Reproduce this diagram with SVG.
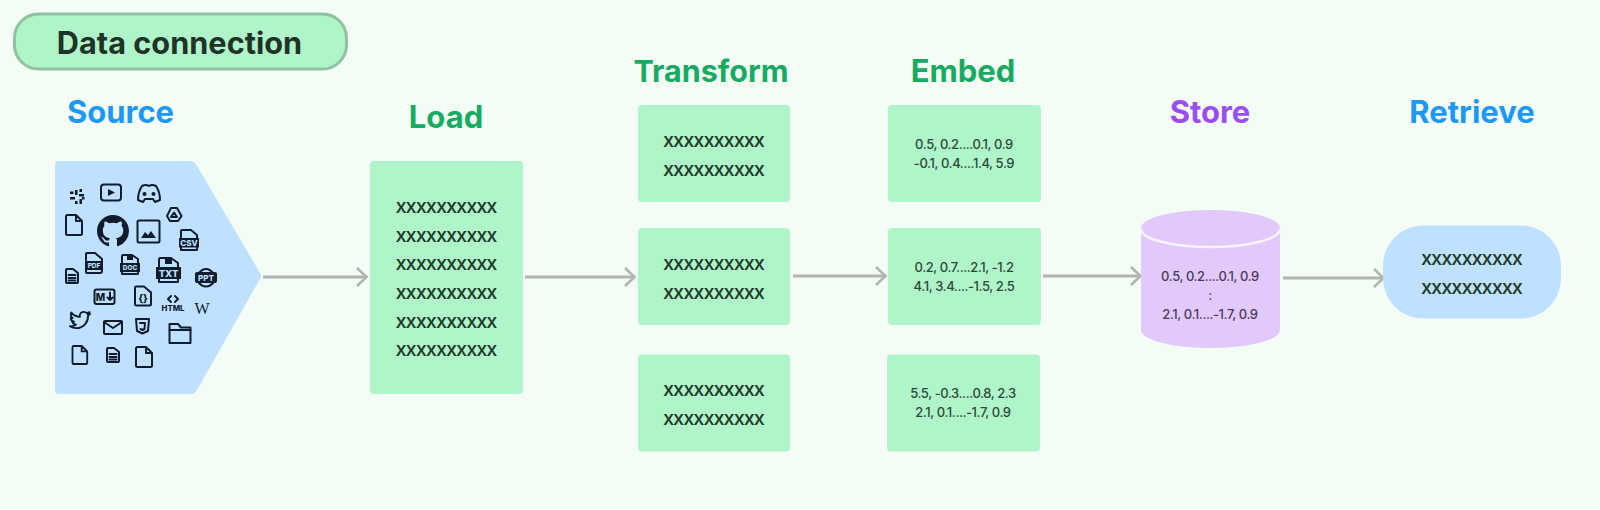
<svg xmlns="http://www.w3.org/2000/svg" width="1600" height="510" viewBox="0 0 1600 510">
<style>
text{font-family:Inter,"Noto Sans","Liberation Sans",sans-serif}
.t{font-size:31px;font-weight:700;text-anchor:middle}
.g{fill:#17ab62}.b{fill:#1c98f7}.p{fill:#9a4cf5}
.box{fill:#aff5c9}
.x{font-size:20px;font-weight:500;fill:#1d3a28;text-anchor:middle;letter-spacing:-1.050px}
.n{font-size:13px;font-weight:500;fill:#2a4a37;text-anchor:middle;letter-spacing:-0.4px}
.s{font-size:13px;font-weight:500;fill:#4a3a5e;text-anchor:middle;letter-spacing:-0.4px}
.c{fill:none;stroke:#b1b5ad;stroke-width:3}
.i{fill:none;stroke:#0e1c2e;stroke-width:2;stroke-linejoin:round;stroke-linecap:round}
.f{fill:#0e1c2e}
.l{font-size:6.5px;font-weight:800;fill:#bfe1ff;text-anchor:middle}
</style>
<defs>
<marker id="a" markerUnits="userSpaceOnUse" markerWidth="16" markerHeight="22" refX="13" refY="11" orient="auto"><path d="M3 2L12.5 11L3 20" fill="none" stroke="#b1b5ad" stroke-width="2.6"/></marker>
<path id="file" d="M0 1.5Q0 0 1.5 0H10L16 6V18.5Q16 20 14.5 20H1.5Q0 20 0 18.5ZM10 0V6H16"/>
</defs>
<rect width="1600" height="510" fill="#f3fdf6"/>

<g id="title"><rect x="14.500" y="14" width="332" height="55" rx="24" fill="#aff5c9" stroke="#8fc39f" stroke-width="3"/><text x="179.500" y="54" font-size="30.700" font-weight="700" text-anchor="middle" fill="#1f3327">Data connection</text></g>

<g id="connectors">
<path class="c" marker-end="url(#a)" d="M263 277H367"/>
<path class="c" marker-end="url(#a)" d="M525 277H635"/>
<path class="c" marker-end="url(#a)" d="M793 276H886"/>
<path class="c" marker-end="url(#a)" d="M1043 276H1141"/>
<path class="c" marker-end="url(#a)" d="M1283 278H1384"/>
</g>

<g id="source">
<text class="t b" x="120.500" y="123">Source</text>
<path d="M55 165Q55 161 59 161H190Q194 161 196 164L260 273Q262 276 260 279L197 390Q195 394 191 394H59Q55 394 55 390Z" fill="#bfe1ff"/>
<g id="i-slack"><path class="f" d="M75 190h2.500v5h-2.500zM79 194h5v2.500h-5zM70 197h5v2.500h-5zM79.500 199h2.500v5h-2.500zM79.500 189h2.500v3h-2.500zM84.500 197h-2.500v2.500h2.500zM70 191.500h3.500v2.500h-3.500zM75 201h2.500v3h-2.500z"/></g>
<g id="i-youtube"><rect class="i" x="101" y="184.500" width="20" height="16" rx="3" stroke-width="2.200"/><path class="f" d="M108 189L115 192.500L108 196Z"/></g>
<g id="i-discord"><path class="i" stroke-width="2.200" d="M142 186Q146 184 149 186Q152 184 156 186Q160 192 160 200L155 202L153 199H145L143 202L138 200Q138 192 142 186Z"/><circle class="f" cx="144.500" cy="194" r="2"/><circle class="f" cx="153.500" cy="194" r="2"/></g>
<g id="i-drive"><path class="i" d="M171 208H177L181.500 216L178 221H170L167 216Z"/><path class="i" d="M174 212.500L171 217H177Z" stroke-width="1.400"/></g>
<use id="i-file1" class="i" href="#file" x="66" y="215"/>
<g id="i-github"><path class="f" transform="translate(97 215) scale(2)" d="M8 0C3.58 0 0 3.58 0 8c0 3.54 2.29 6.53 5.47 7.59.4.07.55-.17.55-.38 0-.19-.01-.82-.01-1.49-2.01.37-2.53-.49-2.69-.94-.09-.23-.48-.94-.82-1.13-.28-.15-.68-.52-.01-.53.63-.01 1.08.58 1.23.82.72 1.21 1.87.87 2.33.66.07-.52.28-.87.51-1.07-1.78-.2-3.64-.89-3.64-3.95 0-.87.31-1.59.82-2.15-.08-.2-.36-1.02.08-2.12 0 0 .67-.21 2.2.82.64-.18 1.32-.27 2-.27.68 0 1.36.09 2 .27 1.53-1.04 2.2-.82 2.2-.82.44 1.1.16 1.92.08 2.12.51.56.82 1.27.82 2.15 0 3.07-1.87 3.75-3.65 3.95.29.25.54.73.54 1.48 0 1.07-.01 1.93-.01 2.2 0 .21.15.46.55.38A8.013 8.013 0 0016 8c0-4.42-3.58-8-8-8z"/></g>
<g id="i-image"><rect class="i" x="137.500" y="220.500" width="22" height="22" rx="1.500" stroke-width="2.400"/><path class="f" d="M141 238L145 232L148 235L151 231L156 238Z"/></g>
<g id="i-csv"><path class="i" d="M181 239V231Q181 230 182 230H191L197 235V239M181 247V250H197V247" stroke-width="1.500"/><rect class="f" x="179" y="238" width="20" height="9.500"/><text class="l" x="189" y="245.500" style="font-size:8px">CSV</text></g>
<g id="i-doc1"><path class="i" d="M66 270Q66 269 67 269H73L78 273V282Q78 283 77 283H67Q66 283 66 282ZM68.500 275H75.500M68.500 278H75.500M68.500 280.500H75.500" stroke-width="1.600"/></g>
<g id="i-pdf"><path class="i" d="M86 260V254Q86 253 87 253H95L102 259V261M86 270V272Q86 273 87 273H100Q102 273 102 271V270" stroke-width="2"/><rect class="f" x="85" y="261" width="18" height="9"/><text class="l" x="94" y="268">PDF</text></g>
<g id="i-docx"><path class="i" d="M122 263V256Q122 255 123 255H132L138 259V263M122 272V274H138V272" stroke-width="2"/><rect class="f" x="127" y="256" width="6" height="4"/><rect class="f" x="120" y="263" width="20" height="9"/><text class="l" x="130" y="270.200">DOC</text></g>
<g id="i-txt"><path class="i" d="M159 267V259Q159 258 160 258H171L178 263V267M159 279V282H178V279" stroke-width="2.200"/><rect class="f" x="165" y="259" width="7" height="5"/><rect class="f" x="156" y="267" width="25" height="12"/><text class="l" x="168.500" y="276.800" style="font-size:9.500px">TXT</text></g>
<g id="i-ppt"><path class="i" d="M198 274Q206 264 214 274M198 282Q206 291 214 282" stroke-width="2.400"/><rect class="f" x="195" y="272" width="22" height="11" rx="2"/><text class="l" x="206" y="280.600" style="font-size:8px">PPT</text></g>
<g id="i-md"><rect class="i" x="94.500" y="289.500" width="20" height="14.500" rx="2" stroke-width="1.500"/><text x="100.500" y="300.500" font-size="10" font-weight="800" fill="#0e1c2e" text-anchor="middle">M</text><path class="i" d="M110 292.500V300M107.500 297.500L110 300L112.500 297.500" stroke-width="1.400"/></g>
<g id="i-code"><path class="i" d="M135 287.500Q135 286.500 136 286.500H144L151 292.500V304Q151 305.500 149.500 305.500H136.500Q135 305.500 135 304Z"/><text x="143" y="302" font-size="10" font-weight="800" fill="#0e1c2e" text-anchor="middle">{}</text></g>
<g id="i-html"><path class="i" d="M171 296L168 299L171 302M175 296L178 299L175 302" stroke-width="1.600"/><text x="173" y="310.500" font-size="7.800" font-weight="800" fill="#0e1c2e" text-anchor="middle">HTML</text></g>
<text id="i-wiki" x="202" y="314" font-size="16" fill="#0e1c2e" text-anchor="middle" style="font-family:'Liberation Serif',serif">W</text>
<g id="i-twitter"><path class="i" stroke-width="2.400" transform="translate(68.500 308) scale(0.96)" d="M22.46 6c-.77.35-1.6.58-2.46.69.88-.53 1.56-1.37 1.88-2.38-.83.5-1.75.85-2.72 1.05C18.37 4.5 17.26 4 16 4c-2.35 0-4.27 1.92-4.27 4.29 0 .34.04.67.11.98C8.28 9.09 5.11 7.38 3 4.79c-.37.63-.58 1.37-.58 2.15 0 1.49.75 2.81 1.91 3.56-.71 0-1.37-.2-1.95-.5v.03c0 2.08 1.48 3.82 3.44 4.21a4.22 4.22 0 0 1-1.93.07 4.28 4.28 0 0 0 4 2.98 8.521 8.521 0 0 1-5.33 1.84c-.34 0-.68-.02-1.02-.06C3.44 20.29 5.7 21 8.12 21 16 21 20.33 14.46 20.33 8.79c0-.19 0-.37-.01-.56.84-.6 1.56-1.36 2.14-2.23z"/></g>
<g id="i-mail"><rect class="i" x="104" y="321" width="18" height="13" rx="1"/><path class="i" d="M104 322L113 328L122 322"/></g>
<g id="i-css"><path class="i" d="M136 319H149L148 331L142.500 333.500L137 331Z" stroke-width="1.300"/><path class="i" d="M140 323H145L144.500 329L142.500 330L140.500 329" stroke-width="1.200"/></g>
<g id="i-folder"><path class="i" d="M169.500 324H178L181 327.500H190.500V343H169.500Z"/><path class="i" d="M169.500 330H190.500" stroke-width="1"/></g>
<use id="i-file2" class="i" href="#file" transform="translate(72.500 346) scale(0.92 0.9)"/>
<g id="i-doc2"><path class="i" d="M107 349Q107 348 108 348H114L119 352V361Q119 362 118 362H108Q107 362 107 361ZM109.500 354H116.500M109.500 357H116.500M109.500 359.500H116.500" stroke-width="1.600"/></g>
<use id="i-file3" class="i" href="#file" x="136" y="347"/>
</g>

<g id="load">
<text class="t g" x="446" y="128">Load</text>
<rect class="box" x="370" y="161" width="153" height="233" rx="4"/>
<text class="x" x="446" y="213">xxxxxxxxxx</text><text class="x" x="446" y="241.500">xxxxxxxxxx</text><text class="x" x="446" y="270">xxxxxxxxxx</text><text class="x" x="446" y="299">xxxxxxxxxx</text><text class="x" x="446" y="327.500">xxxxxxxxxx</text><text class="x" x="446" y="356">xxxxxxxxxx</text>
</g>
<text id="transform-label" class="t g" x="711" y="82" style="font-size:30.500px">Transform</text>
<g id="transform-1"><rect class="box" x="638" y="105" width="152" height="97" rx="4"/><text class="x" x="713.500" y="147">xxxxxxxxxx</text><text class="x" x="713.500" y="175.500">xxxxxxxxxx</text></g>
<g id="transform-2"><rect class="box" x="638" y="228" width="152" height="97" rx="4"/><text class="x" x="713.500" y="270">xxxxxxxxxx</text><text class="x" x="713.500" y="298.500">xxxxxxxxxx</text></g>
<g id="transform-3"><rect class="box" x="638" y="354.500" width="152" height="97" rx="4"/><text class="x" x="713.500" y="396">xxxxxxxxxx</text><text class="x" x="713.500" y="424.500">xxxxxxxxxx</text></g>
<text id="embed-label" class="t g" x="963" y="82">Embed</text>
<g id="embed-1"><rect class="box" x="888" y="105" width="153" height="97" rx="4"/><text class="n" x="964" y="149">0.5, 0.2....0.1, 0.9</text><text class="n" x="964" y="168">-0.1, 0.4....1.4, 5.9</text></g>
<g id="embed-2"><rect class="box" x="888" y="228" width="153" height="97" rx="4"/><text class="n" x="964" y="272">0.2, 0.7....2.1, -1.2</text><text class="n" x="964" y="291">4.1, 3.4....-1.5, 2.5</text></g>
<g id="embed-3"><rect class="box" x="887" y="354.500" width="153" height="97" rx="4"/><text class="n" x="963" y="398">5.5, -0.3....0.8, 2.3</text><text class="n" x="963" y="417">2.1, 0.1....-1.7, 0.9</text></g>
<g id="store">
<text class="t p" x="1210" y="123">Store</text>
<path d="M1141 228A69.500 18 0 0 1 1280 228V330A69.500 18 0 0 1 1141 330Z" fill="#e2c9fb"/>
<path d="M1141 229A69.500 18 0 0 0 1280 229" fill="none" stroke="#f6f4fb" stroke-width="2.500"/>
<text class="s" x="1210" y="281">0.5, 0.2....0.1, 0.9</text><text class="s" x="1210" y="300">:</text><text class="s" x="1210" y="319">2.1, 0.1....-1.7, 0.9</text>
</g>
<g id="retrieve">
<text class="t b" x="1472" y="123">Retrieve</text>
<rect x="1383" y="225.500" width="178" height="93" rx="40" fill="#bfe1ff"/>
<text class="x" x="1471.500" y="265">xxxxxxxxxx</text><text class="x" x="1471.500" y="294">xxxxxxxxxx</text>
</g>
</svg>
